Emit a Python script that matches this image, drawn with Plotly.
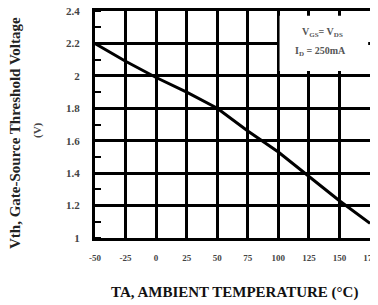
import plotly.graph_objects as go

temperature = [-50, -25, 0, 25, 50, 75, 100, 125, 150, 175]
vth = [2.20, 2.09, 1.99, 1.90, 1.80, 1.66, 1.53, 1.38, 1.23, 1.09]
x_ticks = [-50, -25, 0, 25, 50, 75, 100, 125, 150, 175]
y_ticks = [1, 1.2, 1.4, 1.6, 1.8, 2, 2.2, 2.4]
y_tick_labels = ["1", "1.2", "1.4", "1.6", "1.8", "2", "2.2", "2.4"]

# page body has an 8px default margin
OFF = 8
IMG_W, IMG_H = 378, 305
W, H = IMG_W - OFF, IMG_H - OFF
L, R, T, B = 95, 370, 11, 238  # plot area in screenshot pixels

def px(x):
    return (x - L) / (R - L)

def py(y):
    return (B - y) / (B - T)

serif = "Liberation Serif"

fig = go.Figure()
fig.add_trace(go.Scatter(x=temperature, y=vth, mode="lines",
                         line=dict(color="black", width=3), showlegend=False))

fig.update_layout(
    template="none",
    width=W, height=H,
    margin=dict(l=L - OFF, r=IMG_W - R, t=T - OFF, b=IMG_H - B, pad=0),
    paper_bgcolor="white", plot_bgcolor="white",
    font=dict(family=serif, color="#444"),
    xaxis=dict(range=[-50, 175], tickvals=x_ticks, ticktext=[str(v) for v in x_ticks],
               automargin=False, ticklabeloverflow="allow",
               showgrid=True, gridcolor="black", gridwidth=3,
               showline=True, linecolor="black", linewidth=3, mirror=True,
               ticks="", zeroline=False,
               tickfont=dict(family=serif, size=9, color="#444", weight="bold"),
               ticklabelstandoff=9),
    yaxis=dict(range=[1, 2.4], tickvals=y_ticks, ticktext=y_tick_labels,
               automargin=False, ticklabeloverflow="allow",
               showgrid=True, gridcolor="black", gridwidth=3,
               showline=True, linecolor="black", linewidth=3, mirror=True,
               ticks="", zeroline=False,
               tickfont=dict(family=serif, size=11, color="#444", weight="bold"),
               ticklabelstandoff=10,
               minor=dict(dtick=0.1, tick0=1, ticks="inside", ticklen=6, tickwidth=2,
                          tickcolor="black", showgrid=False)),
)

fig.add_shape(type="rect", xref="x", yref="y", x0=101, x1=173.5, y0=2.03, y1=2.37,
              fillcolor="white", line=dict(width=0), layer="above")

def note(x, y, text, size, color, angle=0):
    fig.add_annotation(x=px(x), y=py(y), xref="paper", yref="paper",
                       xanchor="center", yanchor="middle",
                       text=text, showarrow=False, textangle=angle,
                       font=dict(family=serif, size=size, color=color, weight="bold"))

note(322, 32, "V<sub>GS</sub>= V<sub>DS</sub>", 10, "#555")
note(320, 52, "I<sub>D</sub> = 250mA", 10, "#555")
note(234, 292, "TA, AMBIENT TEMPERATURE (°C)", 15, "#111")
note(15, 133, "Vth, Gate-Source Threshold Voltage", 15, "#222", -90)
note(37, 130, "(V)", 11, "#444", -90)

fig.write_html("out.html")
